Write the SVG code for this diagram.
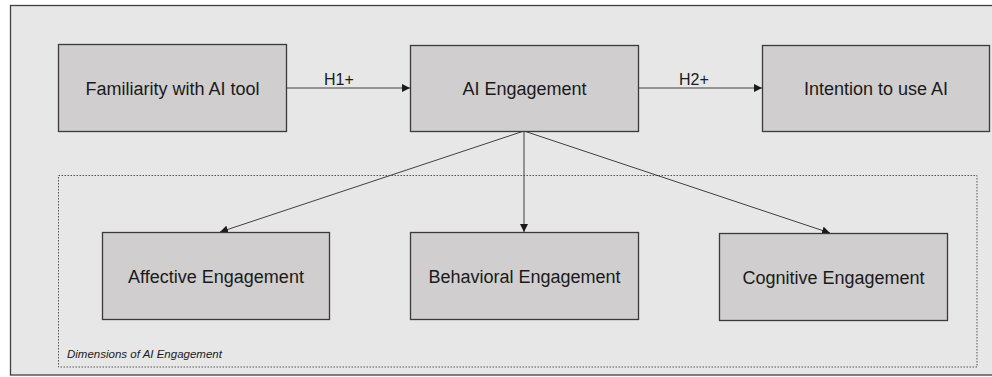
<svg xmlns="http://www.w3.org/2000/svg" width="992" height="377" viewBox="0 0 992 377">
<style>
.node rect{fill:#d0cece;stroke:#3a3a3a;stroke-width:1.3}
.node text{font-family:"Liberation Sans",Arial,sans-serif;font-size:18px;fill:#1a1a1a;text-anchor:middle}
.lbl{font-family:"Liberation Sans",Arial,sans-serif;font-size:16px;fill:#1a1a1a}
.conn line{stroke:#404040;stroke-width:1;marker-end:url(#ah)}
</style>
<defs>
<marker id="ah" viewBox="0 0 10 10" refX="10" refY="5" markerWidth="8" markerHeight="8" markerUnits="userSpaceOnUse" orient="auto">
<path d="M0,0 L10,5 L0,10 z" fill="#1a1a1a"/>
</marker>
</defs>
<rect x="0" y="0" width="992" height="377" fill="#ffffff"/>
<rect id="frame" x="10.5" y="5.5" width="990" height="369.5" fill="#e7e7e7" stroke="#404040" stroke-width="1.3"/>
<g id="group-dimensions">
<rect x="58.5" y="175.5" width="918.5" height="191.5" fill="none" stroke="#505050" stroke-width="1" stroke-dasharray="1.5,1.5"/>
<text x="67" y="358" font-family="'Liberation Sans',Arial,sans-serif" font-size="11.5" font-style="italic" fill="#1a1a1a">Dimensions of AI Engagement</text>
</g>
<g class="conn" id="connectors">
<line x1="286" y1="88" x2="410" y2="88"/>
<line x1="638" y1="88" x2="762" y2="88"/>
<line x1="524" y1="131" x2="220" y2="232"/>
<line x1="524" y1="131" x2="524" y2="232"/>
<line x1="524" y1="131" x2="830" y2="233"/>
<text class="lbl" x="324" y="85">H1+</text>
<text class="lbl" x="679" y="85">H2+</text>
</g>
<g class="node" id="familiarity"><rect x="58.5" y="44.5" width="228" height="87"/><text x="172.5" y="95">Familiarity with AI tool</text></g>
<g class="node" id="ai-engagement"><rect x="410.5" y="45.5" width="228" height="86"/><text x="524.5" y="95">AI Engagement</text></g>
<g class="node" id="intention"><rect x="762.5" y="45.5" width="227" height="86"/><text x="876" y="95">Intention to use AI</text></g>
<g class="node" id="affective"><rect x="102.5" y="232.5" width="227" height="87"/><text x="216" y="282.5">Affective Engagement</text></g>
<g class="node" id="behavioral"><rect x="410.5" y="232.5" width="228" height="87"/><text x="524.5" y="282.5">Behavioral Engagement</text></g>
<g class="node" id="cognitive"><rect x="719.5" y="233.5" width="228" height="87"/><text x="833.5" y="283.5">Cognitive Engagement</text></g>
</svg>
